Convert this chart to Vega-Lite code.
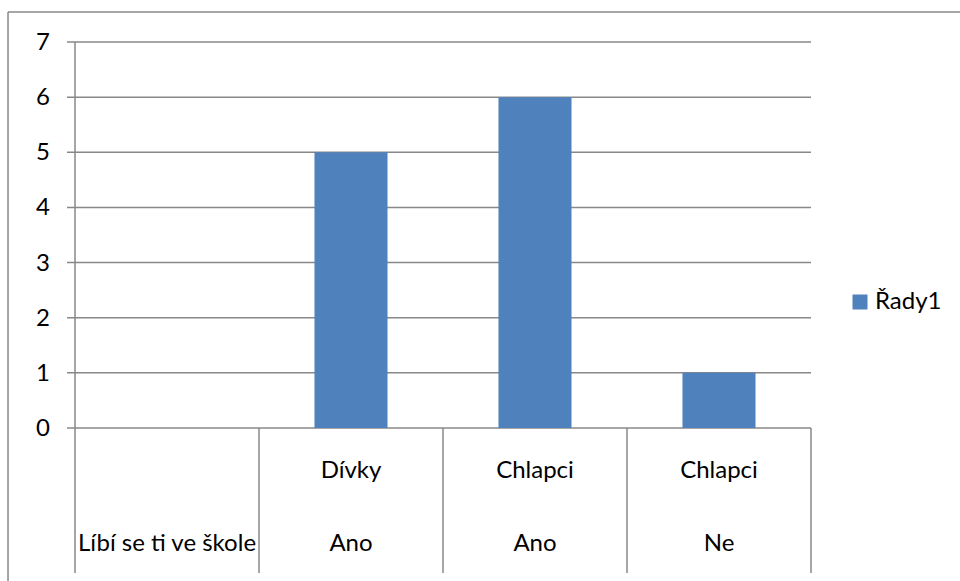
{
  "$schema": "https://vega.github.io/schema/vega-lite/v6.json",
  "width": 952,
  "height": 569,
  "autosize": "none",
  "padding": {"left": 8, "top": 12, "right": 0, "bottom": 0},
  "background": "white",
  "config": {
    "view": {"stroke": null},
    "font": "Lato",
    "text": {"font": "Lato", "fontSize": 24, "color": "#000000"}
  },
  "datasets": {
    "kategorie": [
      {"kategorie": "Líbí se ti ve škole", "skupina": "", "odpoved": "Líbí se ti ve škole", "pocet": null, "rada": "Řady1"},
      {"kategorie": "Dívky – Ano", "skupina": "Dívky", "odpoved": "Ano", "pocet": 5, "rada": "Řady1"},
      {"kategorie": "Chlapci – Ano", "skupina": "Chlapci", "odpoved": "Ano", "pocet": 6, "rada": "Řady1"},
      {"kategorie": "Chlapci – Ne", "skupina": "Chlapci", "odpoved": "Ne", "pocet": 1, "rada": "Řady1"}
    ],
    "osa": [
      {"hodnota": 0}, {"hodnota": 1}, {"hodnota": 2}, {"hodnota": 3},
      {"hodnota": 4}, {"hodnota": 5}, {"hodnota": 6}, {"hodnota": 7}
    ]
  },
  "layer": [
    {
      "data": {"name": "osa"},
      "transform": [{"filter": "datum.hodnota == 7"}],
      "mark": {"type": "rule", "color": "#888888", "strokeWidth": 1.5},
      "encoding": {
        "y": {"datum": 7.544, "type": "quantitative", "axis": null}
      }
    },
    {
      "data": {"name": "osa"},
      "transform": [{"filter": "datum.hodnota == 7"}],
      "mark": {"type": "rule", "color": "#888888", "strokeWidth": 1.5},
      "encoding": {
        "x": {"datum": "Líbí se ti ve škole", "type": "nominal", "bandPosition": -0.3641, "axis": null}
      }
    },
    {
      "data": {"name": "osa"},
      "mark": {"type": "rule", "color": "#888888", "strokeWidth": 1.5, "xOffset": -8},
      "encoding": {
        "x": {"datum": "Líbí se ti ve škole", "type": "nominal", "bandPosition": 0, "axis": null},
        "x2": {"datum": "Chlapci – Ne", "bandPosition": 1},
        "y": {"field": "hodnota", "type": "quantitative", "axis": null, "scale": {"domain": [-2.775, 7.544], "nice": false, "zero": false}}
      }
    },
    {
      "data": {"name": "osa"},
      "transform": [{"filter": "datum.hodnota == 7"}],
      "mark": {"type": "rule", "color": "#888888", "strokeWidth": 1.5, "y2Offset": 145},
      "encoding": {
        "x": {"datum": "Líbí se ti ve škole", "type": "nominal", "bandPosition": 0, "axis": null},
        "y": {"field": "hodnota", "type": "quantitative", "axis": null},
        "y2": {"datum": 0}
      }
    },
    {
      "data": {"name": "kategorie"},
      "mark": {"type": "rule", "color": "#888888", "strokeWidth": 1.5, "y2Offset": 145},
      "encoding": {
        "x": {"field": "kategorie", "type": "nominal", "bandPosition": 1, "axis": null},
        "y": {"datum": 0, "type": "quantitative", "axis": null},
        "y2": {"datum": 0}
      }
    },
    {
      "data": {"name": "kategorie"},
      "mark": {"type": "bar", "width": {"band": 0.397}},
      "encoding": {
        "x": {
          "field": "kategorie", "type": "nominal",
          "scale": {
            "domain": ["Líbí se ti ve škole", "Dívky – Ano", "Chlapci – Ano", "Chlapci – Ne"],
            "paddingInner": 0, "paddingOuter": 0.587, "align": 0.3102
          },
          "axis": null
        },
        "y": {
          "field": "pocet", "type": "quantitative",
          "scale": {"domain": [-2.775, 7.544], "nice": false, "zero": false},
          "axis": null
        },
        "color": {
          "field": "rada", "type": "nominal",
          "scale": {"range": ["#4F81BD"]},
          "legend": {
            "title": null, "orient": "none", "legendX": 840, "legendY": 278,
            "symbolType": "square", "symbolSize": 225, "symbolStrokeWidth": 0,
            "labelFont": "Lato", "labelFontSize": 24, "labelColor": "#000000", "labelOffset": 3
          }
        }
      }
    },
    {
      "data": {"name": "osa"},
      "mark": {"type": "text", "align": "right", "baseline": "alphabetic", "dx": -25, "dy": 8},
      "encoding": {
        "x": {"datum": "Líbí se ti ve škole", "type": "nominal", "bandPosition": 0, "axis": null},
        "y": {"field": "hodnota", "type": "quantitative", "axis": null},
        "text": {"field": "hodnota", "type": "quantitative"}
      }
    },
    {
      "data": {"name": "kategorie"},
      "mark": {"type": "text", "align": "center", "baseline": "alphabetic", "dy": 50},
      "encoding": {
        "x": {"field": "kategorie", "type": "nominal", "axis": null},
        "y": {"datum": 0, "type": "quantitative", "axis": null},
        "text": {"field": "skupina", "type": "nominal"}
      }
    },
    {
      "data": {"name": "kategorie"},
      "mark": {"type": "text", "align": "center", "baseline": "alphabetic", "dy": 123},
      "encoding": {
        "x": {"field": "kategorie", "type": "nominal", "axis": null},
        "y": {"datum": 0, "type": "quantitative", "axis": null},
        "text": {"field": "odpoved", "type": "nominal"}
      }
    }
  ]
}
